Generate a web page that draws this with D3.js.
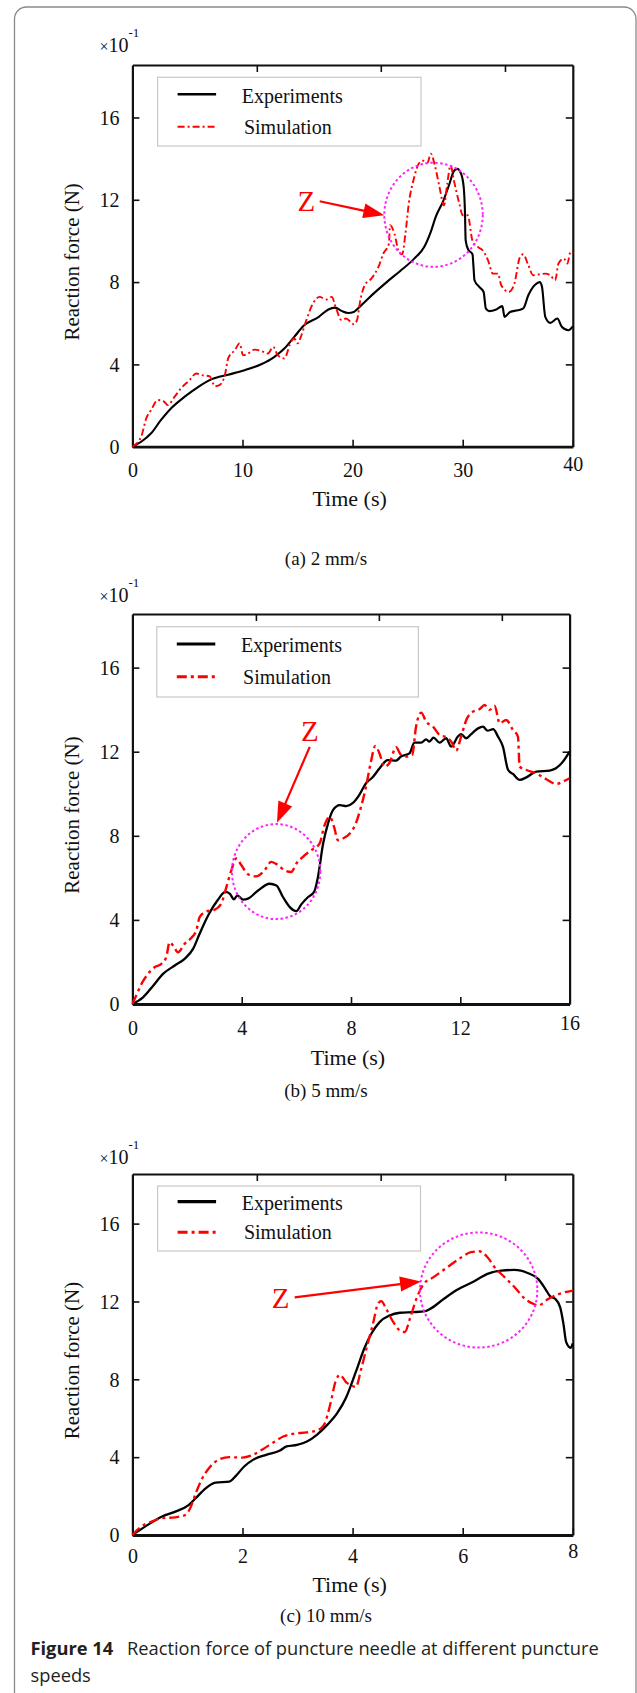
<!DOCTYPE html>
<html><head><meta charset="utf-8">
<script src="https://cdn.jsdelivr.net/npm/d3@7"></script>
<style>body{margin:0;background:#fff}svg{display:block}</style>
</head><body>
<svg id="chart" width="637" height="1693"></svg>
<script>
// ---------------- DATA ----------------
const yTicks = [0, 4, 8, 12, 16];
const xTicksA = [0, 10, 20, 30, 40];
const xTicksB = [0, 4, 8, 12, 16];
const xTicksC = [0, 2, 4, 6, 8];
const topTicksA = [11.3, 22.56, 33.84];
const topTicksB = [4.52, 9.02, 13.52];
const topTicksC = [2.26, 4.51, 6.77];
const seriesNames = ["Experiments", "Simulation"];
const captions = ["(a) 2 mm/s", "(b) 5 mm/s", "(c) 10 mm/s"];

// Panel (a) 2 mm/s : [time s, force ×10^-1 N]
const expA = [[0,0],[0.8,0.24],[1.7,0.65],[2.6,1.3],[3.5,1.86],[4.75,2.43],[5.96,2.9],[7.17,3.27],[8.7,3.5],[10.2,3.72],[11.7,4.01],[12.9,4.37],[13.8,4.77],[14.7,5.34],[15.6,5.9],[16.9,6.3],[17.8,6.67],[18.4,6.76],[19.0,6.6],[19.6,6.5],[20.1,6.55],[20.8,6.88],[21.9,7.44],[23.1,8.0],[24.3,8.53],[25.6,9.14],[26.5,9.7],[27.1,10.44],[27.55,11.17],[28.2,11.9],[28.8,12.78],[29.2,13.4],[29.5,13.5],[29.85,13.27],[30.09,12.62],[30.2,11.5],[30.27,10.03],[30.5,9.58],[30.89,9.35],[30.98,8.74],[31.07,8.09],[31.5,7.77],[31.9,7.52],[32.1,6.72],[32.4,6.59],[33.05,6.67],[33.6,6.83],[33.8,6.31],[34.3,6.55],[35.0,6.63],[35.5,6.72],[35.96,7.36],[36.6,7.88],[37.0,8.0],[37.2,7.77],[37.5,6.31],[37.95,6.02],[38.6,6.23],[39.0,5.83],[39.6,5.66],[40,5.85]];
const simA = [[0,0],[0.8,0.49],[1.26,1.38],[1.7,1.78],[2.3,2.27],[2.9,2.18],[3.2,2.02],[3.84,2.43],[4.4,2.83],[5.2,3.24],[5.8,3.56],[6.26,3.48],[7.0,3.43],[7.5,2.94],[7.9,2.99],[8.4,3.48],[8.7,4.29],[9.3,4.69],[9.74,5.02],[10.05,4.45],[10.5,4.53],[11.1,4.72],[11.9,4.61],[12.3,4.53],[12.8,4.85],[13.2,4.45],[13.8,4.29],[14.4,5.1],[14.7,5.26],[15.0,5.02],[15.3,5.34],[15.8,6.15],[16.4,6.96],[17.0,7.28],[17.6,7.15],[18.1,7.28],[18.5,6.72],[19.0,6.15],[19.4,6.23],[19.9,6.02],[20.1,5.95],[20.4,6.15],[20.7,7.12],[21.1,7.85],[21.7,8.17],[22.35,8.74],[22.8,9.39],[23.3,9.87],[23.4,10.76],[23.8,10.36],[24.2,9.47],[24.5,9.35],[24.8,10.36],[25.1,11.8],[25.6,13.1],[26.0,13.75],[26.4,13.9],[26.8,13.8],[27.1,14.24],[27.5,13.6],[27.9,12.6],[28.3,11.73],[28.6,12.8],[28.9,13.67],[29.2,12.94],[29.7,11.8],[30.0,11.25],[30.45,11.25],[30.9,10.0],[31.4,9.7],[31.8,9.55],[32.3,9.06],[32.75,8.41],[33.2,8.41],[33.5,7.85],[34.2,7.52],[34.7,7.93],[35.2,9.22],[35.5,9.35],[35.96,8.82],[36.4,8.33],[37.0,8.38],[37.5,8.41],[37.95,8.33],[38.4,8.09],[38.7,8.9],[39.2,9.14],[39.5,8.9],[39.8,9.47],[40,9.4]];

// Panel (b) 5 mm/s
const expB = [[0,0],[0.39,0.32],[0.76,0.87],[1.12,1.43],[1.55,1.83],[1.91,2.15],[2.22,2.62],[2.46,3.34],[2.77,4.21],[3.13,4.96],[3.4,5.33],[3.56,5.25],[3.72,4.98],[3.84,5.17],[4.05,4.96],[4.23,5.01],[4.6,5.4],[5.02,5.72],[5.27,5.64],[5.51,5.09],[5.76,4.61],[6.0,4.42],[6.18,4.74],[6.43,5.09],[6.65,5.33],[6.79,6.04],[6.98,7.63],[7.16,8.59],[7.34,9.22],[7.59,9.46],[7.83,9.41],[8.06,9.55],[8.3,9.94],[8.55,10.5],[8.8,10.8],[9.04,11.2],[9.34,11.6],[9.65,11.58],[9.83,11.77],[10.14,11.92],[10.32,12.43],[10.57,12.43],[10.75,12.59],[10.87,12.48],[11.02,12.67],[11.24,12.43],[11.48,12.64],[11.67,12.24],[11.91,12.72],[12.03,12.84],[12.22,12.64],[12.4,12.84],[12.65,13.11],[12.83,13.19],[13.0,13.0],[13.2,13.07],[13.38,12.72],[13.56,12.24],[13.75,11.13],[13.93,10.94],[14.17,10.66],[14.42,10.78],[14.78,11.05],[15.27,11.1],[15.5,11.21],[15.76,11.53],[16,12.0]];
const simB = [[0,0],[0.14,0.4],[0.33,0.95],[0.57,1.43],[0.81,1.75],[1.06,1.91],[1.24,2.23],[1.36,2.94],[1.49,2.78],[1.67,2.46],[1.91,2.86],[2.16,3.15],[2.34,3.5],[2.46,4.13],[2.71,4.4],[3.0,4.48],[3.25,4.77],[3.44,5.56],[3.62,6.36],[3.8,6.92],[3.99,6.6],[4.23,6.17],[4.53,6.07],[4.84,6.36],[5.08,6.76],[5.33,6.6],[5.57,6.36],[5.81,6.28],[6.0,6.68],[6.24,7.0],[6.54,7.31],[6.85,7.63],[7.03,8.5],[7.22,8.9],[7.38,8.43],[7.52,7.79],[7.7,7.87],[7.95,8.1],[8.18,8.6],[8.37,9.39],[8.55,10.34],[8.73,11.53],[8.89,12.27],[9.04,11.93],[9.22,11.29],[9.4,11.45],[9.65,12.21],[9.83,11.85],[10.02,11.77],[10.24,11.85],[10.38,13.19],[10.57,13.86],[10.75,13.43],[11.0,13.19],[11.24,12.8],[11.48,12.69],[11.67,12.48],[11.85,12.05],[12.03,12.72],[12.22,13.51],[12.46,13.9],[12.7,14.02],[12.89,14.22],[13.07,13.99],[13.26,14.18],[13.44,13.35],[13.68,13.51],[13.93,13.03],[14.11,12.72],[14.17,11.29],[14.42,11.13],[14.78,10.97],[15.15,10.69],[15.52,10.47],[15.76,10.58],[16,10.74]];

// Panel (c) 10 mm/s
const expC = [[0,0],[0.23,0.43],[0.53,0.94],[0.78,1.2],[1.02,1.54],[1.15,1.89],[1.33,2.4],[1.51,2.69],[1.76,2.74],[1.88,3.04],[2.03,3.52],[2.19,3.86],[2.43,4.12],[2.68,4.34],[2.8,4.55],[2.99,4.63],[3.17,4.8],[3.35,5.15],[3.54,5.66],[3.72,6.26],[3.88,7.05],[3.97,7.69],[4.09,8.63],[4.21,9.57],[4.34,10.34],[4.49,10.94],[4.67,11.28],[4.86,11.42],[5.1,11.45],[5.32,11.5],[5.41,11.62],[5.66,12.14],[5.9,12.6],[6.21,13.04],[6.45,13.42],[6.7,13.59],[6.94,13.62],[7.19,13.45],[7.37,13.16],[7.5,12.65],[7.59,12.26],[7.68,12.14],[7.77,11.71],[7.83,10.85],[7.88,9.91],[7.96,9.62],[8,9.85]];
const simC = [[0,0],[0.16,0.43],[0.35,0.69],[0.53,0.86],[0.78,0.91],[0.96,1.03],[1.05,1.37],[1.15,2.14],[1.27,2.92],[1.39,3.43],[1.58,3.89],[1.76,4.0],[2.0,3.98],[2.19,4.12],[2.37,4.41],[2.56,4.75],[2.74,5.06],[2.92,5.2],[3.17,5.27],[3.35,5.37],[3.48,5.66],[3.6,6.78],[3.69,7.89],[3.77,8.23],[3.88,7.86],[3.97,7.7],[4.06,7.61],[4.15,8.46],[4.25,9.57],[4.37,10.85],[4.46,11.88],[4.52,12.02],[4.61,11.62],[4.74,10.94],[4.86,10.51],[4.95,10.43],[5.04,11.11],[5.17,12.22],[5.29,12.9],[5.47,13.25],[5.72,13.76],[5.96,14.24],[6.15,14.53],[6.3,14.58],[6.45,14.27],[6.58,13.76],[6.76,13.25],[6.94,12.74],[7.13,12.14],[7.28,11.88],[7.37,11.79],[7.56,12.14],[7.8,12.43],[8,12.56]];

// ---------------- LAYOUT ----------------
const yMax = 18.55;
const panels = [
  {exp: expA, sim: simA, xMax: 40, xTicks: xTicksA, topTicks: topTicksA, caption: captions[0],
   l: 132.4, r: 572.8, t: 65, b: 446.7, lblDy: 30, lastDy: -6, titleDy: 59, expoDy: 13.3,
   leg: {dx: 25.2, dy: 12.3, w: 263.4, h: 68.7, y1: 17, y2: 49.4}, legW: [2.6, 2], simDash: "7,3,2,3", simW: 1.9, expW: 2.1,
   z: {label: [15.0, 11.46], from: [17.01, 11.93], to: [22.88, 11.25]},
   circ: {cx: 27.35, cy: 11.27, rx: 4.47, ry: 2.53}, capY: 565},
  {exp: expB, sim: simB, xMax: 16, xTicks: xTicksB, topTicks: topTicksB, caption: captions[1],
   l: 132.4, r: 569.6, t: 614, b: 1004, lblDy: 31, lastDy: -5, titleDy: 61, expoDy: 11.7,
   leg: {dx: 24.4, dy: 12.7, w: 261.6, h: 70.3, y1: 17.3, y2: 50}, legW: [3.2, 3], simDash: "10,4,3,4", simW: 2.4, expW: 2.3,
   z: {label: [6.17, 12.51], from: [6.49, 12.23], to: [5.29, 8.62]},
   circ: {cx: 5.26, cy: 6.3, rx: 1.617, ry: 2.258}, capY: 1097},
  {exp: expC, sim: simC, xMax: 8, xTicks: xTicksC, topTicks: topTicksC, caption: captions[2],
   l: 132.4, r: 572.8, t: 1174, b: 1535, lblDy: 28, lastDy: -5, titleDy: 57, expoDy: 9.7,
   leg: {dx: 25.2, dy: 12, w: 262.9, h: 65, y1: 15.7, y2: 46.3}, legW: [3.2, 3], simDash: "10,4,3,4", simW: 2.3, expW: 2.3,
   z: {label: [2.53, 11.69], from: [2.948, 12.21], to: [5.243, 13.03]},
   circ: {cx: 6.29, cy: 12.59, rx: 1.066, ry: 2.958}, capY: 1622}
];

const svg = d3.select("#chart");
const serif = "'Liberation Serif','Times New Roman',serif";
const RED = "#ff0000", MAG = "#ff22ff";

// outer rounded frame
svg.append("path")
  .attr("d", "M14.5,1693 V19 A12,12 0 0 1 26.5,7 H624 A12,12 0 0 1 636,19 V1693")
  .attr("fill", "none").attr("stroke", "#8a8a8a").attr("stroke-width", 1.3);

panels.forEach(p => {
  const x = d3.scaleLinear().domain([0, p.xMax]).range([p.l, p.r]);
  const y = d3.scaleLinear().domain([0, yMax]).range([p.b, p.t]);
  const g = svg.append("g");

  // axes
  const ax = (gen, tr) => g.append("g").attr("transform", tr).call(gen);
  const left = ax(d3.axisLeft(y).tickValues(yTicks).tickSize(-7).tickSizeOuter(0).tickPadding(13), `translate(${p.l},0)`);
  const right = ax(d3.axisRight(y).tickValues(yTicks.slice(1)).tickSize(-7).tickSizeOuter(0).tickFormat(""), `translate(${p.r},0)`);
  const top = ax(d3.axisTop(x).tickValues(p.topTicks).tickSize(-7).tickSizeOuter(0).tickFormat(""), `translate(0,${p.t})`);
  const bottom = ax(d3.axisBottom(x).tickValues(p.xTicks).tickSize(-7).tickSizeOuter(0).tickPadding(0), `translate(0,${p.b})`);
  [left, right, top, bottom].forEach(a => {
    a.select(".domain").attr("stroke", "#111").attr("stroke-width", 2.2);
    a.selectAll(".tick line").attr("stroke", "#111").attr("stroke-width", 1.6);
    a.selectAll("text").attr("font-family", serif).attr("font-size", 20).attr("fill", "#111");
  });
  bottom.select(".domain").attr("stroke-width", 2.8);
  left.selectAll(".tick text").attr("dy", "0.34em");
  bottom.selectAll(".tick text").attr("dy", 0).attr("y", p.lblDy);
  bottom.selectAll(".tick text").filter((d, i, n) => i === n.length - 1).attr("y", p.lblDy + p.lastDy);

  // exponent label
  const ex = g.append("text").attr("x", 99.5).attr("y", p.t - p.expoDy)
    .attr("font-family", serif).attr("font-size", 20).attr("fill", "#111");
  ex.append("tspan").text("×").attr("font-size", 16);
  ex.append("tspan").text("10");
  ex.append("tspan").text("-1").attr("font-size", 13).attr("dy", -15);

  // axis titles
  g.append("text").attr("transform", `translate(79,${(p.t + p.b) / 2 + 6}) rotate(-90)`)
    .attr("text-anchor", "middle").attr("font-family", serif).attr("font-size", 21).attr("fill", "#111")
    .text("Reaction force (N)");
  g.append("text").attr("x", (p.l + p.r) / 2 - 3).attr("y", p.b + p.titleDy)
    .attr("text-anchor", "middle").attr("font-family", serif).attr("font-size", 22).attr("fill", "#111")
    .text("Time (s)");
  g.append("text").attr("x", 326).attr("y", p.capY)
    .attr("text-anchor", "middle").attr("font-family", serif).attr("font-size", 19).attr("fill", "#111")
    .text(p.caption);

  // lines
  const line = d3.line().x(d => x(d[0])).y(d => y(d[1])).curve(d3.curveMonotoneX);
  g.append("path").datum(p.exp).attr("d", line).attr("fill", "none")
    .attr("stroke", "#000").attr("stroke-width", p.expW).attr("stroke-linejoin", "round");
  g.append("path").datum(p.sim).attr("d", line).attr("fill", "none")
    .attr("stroke", RED).attr("stroke-width", p.simW).attr("stroke-dasharray", p.simDash);

  // legend
  const lg = g.append("g").attr("transform", `translate(${p.l + p.leg.dx},${p.t + p.leg.dy})`);
  lg.append("rect").attr("x", 0).attr("y", 0).attr("width", p.leg.w).attr("height", p.leg.h)
    .attr("fill", "#fff").attr("stroke", "#c8c8c8").attr("stroke-width", 1.2);
  [[p.leg.y1, "#000", null, p.legW[0]], [p.leg.y2, RED, p.simDash, p.legW[1]]].forEach((s, i) => {
    lg.append("line").attr("x1", 20).attr("x2", 58.5).attr("y1", s[0]).attr("y2", s[0])
      .attr("stroke", s[1]).attr("stroke-width", s[3]).attr("stroke-dasharray", s[2]);
    lg.append("text").attr("x", i === 0 ? 84.2 : 86.3).attr("y", s[0] + (i === 0 ? 8.5 : 7))
      .attr("font-family", serif).attr("font-size", 20).attr("fill", "#111").text(seriesNames[i]);
  });

  // annotation circle
  g.append("ellipse").attr("cx", x(p.circ.cx)).attr("cy", y(p.circ.cy))
    .attr("rx", x(p.circ.rx) - x(0)).attr("ry", y(0) - y(p.circ.ry))
    .attr("fill", "none").attr("stroke", MAG).attr("stroke-width", 2).attr("stroke-dasharray", "2.5,2.5");

  // Z label and arrow
  g.append("text").attr("x", x(p.z.label[0])).attr("y", y(p.z.label[1]))
    .attr("font-family", serif).attr("font-size", 29).attr("fill", RED).text("Z");
  const x0 = x(p.z.from[0]), y0 = y(p.z.from[1]), x1 = x(p.z.to[0]), y1 = y(p.z.to[1]);
  const len = Math.hypot(x1 - x0, y1 - y0), ux = (x1 - x0) / len, uy = (y1 - y0) / len;
  const hl = 21, hw = 7.5;
  const bx = x1 - ux * hl, by = y1 - uy * hl;
  g.append("line").attr("x1", x0).attr("y1", y0).attr("x2", bx + ux * 2).attr("y2", by + uy * 2)
    .attr("stroke", RED).attr("stroke-width", 2.2);
  g.append("path").attr("d", `M${x1},${y1}L${bx - uy * hw},${by + ux * hw}L${bx + uy * hw},${by - ux * hw}Z`)
    .attr("fill", RED);
});

// figure caption
const sans = "'Open Sans','Noto Sans',sans-serif";
const cap1 = svg.append("text").attr("x", 30.5).attr("y", 1655).attr("font-family", sans).attr("font-size", 18).attr("fill", "#231f20");
cap1.append("tspan").attr("font-weight", "bold").text("Figure 14");
cap1.append("tspan").attr("dx", 9).text(" Reaction force of puncture needle at different puncture");
const w = cap1.node().getComputedTextLength() + 9;
const fs = 18 * 569 / w;
cap1.attr("font-size", fs);
svg.append("text").attr("x", 30.5).attr("y", 1681.7).attr("font-family", sans).attr("font-size", fs).attr("fill", "#231f20").text("speeds");
</script>
</body></html>
